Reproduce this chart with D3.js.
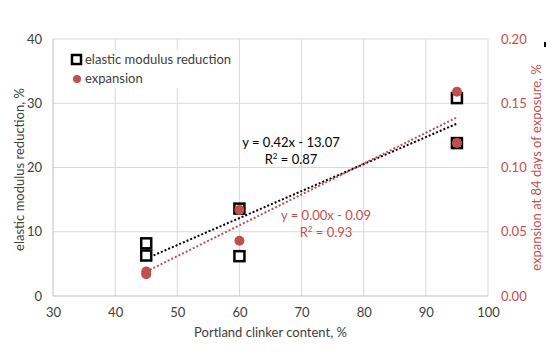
<!DOCTYPE html>
<html><head><meta charset="utf-8">
<script src="https://cdn.jsdelivr.net/npm/d3@7"></script>
<style>body{margin:0;background:#fff}svg{display:block}text{font-family:Lato,"Open Sans",sans-serif}</style>
</head><body>
<svg id="c" width="547" height="359"></svg>
<script>
const modX = [45, 45, 60, 60, 95, 95];
const modY = [8.2, 6.3, 13.6, 6.2, 30.8, 23.8];
const expX = [45, 45, 60, 60, 95, 95];
const expY = [0.019, 0.017, 0.067, 0.043, 0.159, 0.119];
const modFit = [0.42, -13.07];
const expFit = [0.0024, -0.089];
const xTicks = [30, 40, 50, 60, 70, 80, 90, 100];
const yTicks = [0, 10, 20, 30, 40];
const y2Ticks = [0, 0.05, 0.10, 0.15, 0.20];
const red = "#C0504D";

const svg = d3.select("#c");
const L = 53, R = 488, T = 39, B = 296;
const x = d3.scaleLinear().domain([30, 100]).range([L, R]);
const y = d3.scaleLinear().domain([0, 40]).range([B, T]);
const y2 = d3.scaleLinear().domain([0, 0.2]).range([B, T]);

// grid
svg.append("g").selectAll("line").data(xTicks.slice(1)).join("line")
  .attr("x1", d => x(d)).attr("x2", d => x(d)).attr("y1", T).attr("y2", B)
  .attr("stroke", "#d9d9d9").attr("stroke-width", 1);
svg.append("g").selectAll("line").data(yTicks.slice(1)).join("line")
  .attr("x1", L).attr("x2", R).attr("y1", d => y(d)).attr("y2", d => y(d))
  .attr("stroke", "#d9d9d9").attr("stroke-width", 1);
// axes lines
svg.append("line").attr("x1", L).attr("x2", L).attr("y1", T).attr("y2", B).attr("stroke", "#bfbfbf");
svg.append("line").attr("x1", L).attr("x2", R).attr("y1", B).attr("y2", B).attr("stroke", "#bfbfbf");

// tick labels
const xa = d3.axisBottom(x).tickValues(xTicks).tickSize(0).tickPadding(12);
svg.append("g").attr("transform", `translate(0,${B})`).call(xa)
  .call(g => g.select(".domain").remove())
  .selectAll("text").attr("font-size", 13).attr("fill", "#404040").attr("font-family", "Lato");
const ya = d3.axisLeft(y).tickValues(yTicks).tickSize(0).tickPadding(11);
svg.append("g").attr("transform", `translate(${L},0)`).call(ya)
  .call(g => g.select(".domain").remove())
  .selectAll("text").attr("font-size", 13).attr("fill", "#404040").attr("font-family", "Lato");
const y2a = d3.axisRight(y2).tickValues(y2Ticks).tickFormat(d3.format(".2f")).tickSize(0).tickPadding(13);
svg.append("g").attr("transform", `translate(${R},0)`).call(y2a)
  .call(g => g.select(".domain").remove())
  .selectAll("text").attr("font-size", 13).attr("fill", red).attr("font-family", "Lato");

// axis titles
svg.append("text").attr("x", (L + R) / 2).attr("y", 337).attr("text-anchor", "middle")
  .attr("font-size", 13).attr("fill", "#404040").text("Portland clinker content, %");
svg.append("text").attr("transform", `translate(24,${(T + B) / 2 + 2}) rotate(-90)`).attr("text-anchor", "middle")
  .attr("font-size", 13).attr("fill", "#404040").text("elastic modulus reduction, %");
svg.append("text").attr("transform", `translate(541,${(T + B) / 2}) rotate(-90)`).attr("text-anchor", "middle")
  .attr("font-size", 13).attr("fill", red).text("expansion at 84 days of exposure, %");

// trendlines
const xMin = d3.min(modX), xMax = d3.max(modX);
svg.append("line").attr("x1", x(xMin)).attr("x2", x(xMax))
  .attr("y1", y(modFit[0] * xMin + modFit[1])).attr("y2", y(modFit[0] * xMax + modFit[1]))
  .attr("stroke", "#000").attr("stroke-width", 2).attr("stroke-dasharray", "2,2");
svg.append("line").attr("x1", x(xMin)).attr("x2", x(xMax))
  .attr("y1", y2(expFit[0] * xMin + expFit[1])).attr("y2", y2(expFit[0] * xMax + expFit[1]))
  .attr("stroke", red).attr("stroke-width", 2).attr("stroke-dasharray", "2,2");

// squares
const s = 10;
svg.append("g").selectAll("rect").data(modX.map((d, i) => [d, modY[i]])).join("rect")
  .attr("x", d => x(d[0]) - s / 2).attr("y", d => y(d[1]) - s / 2).attr("width", s).attr("height", s)
  .attr("fill", "#fff").attr("stroke", "#000").attr("stroke-width", 2.5);
// circles
svg.append("g").selectAll("circle").data(expX.map((d, i) => [d, expY[i]])).join("circle")
  .attr("cx", d => x(d[0])).attr("cy", d => y2(d[1])).attr("r", 5).attr("fill", red);

// equation labels
svg.append("text").attr("x", 291).attr("y", 147).attr("text-anchor", "middle").attr("font-size", 13).attr("fill", "#000").text("y = 0.42x - 13.07");
const r1 = svg.append("text").attr("x", 291).attr("y", 164).attr("text-anchor", "middle").attr("font-size", 13).attr("fill", "#000");
r1.append("tspan").text("R");
r1.append("tspan").attr("font-size", 8).attr("dy", -5).text("2");
r1.append("tspan").attr("dy", 5).text(" = 0.87");
svg.append("text").attr("x", 326).attr("y", 220).attr("text-anchor", "middle").attr("font-size", 13).attr("fill", red).text("y = 0.00x - 0.09");
const r2 = svg.append("text").attr("x", 326).attr("y", 237).attr("text-anchor", "middle").attr("font-size", 13).attr("fill", red);
r2.append("tspan").text("R");
r2.append("tspan").attr("font-size", 8).attr("dy", -5).text("2");
r2.append("tspan").attr("dy", 5).text(" = 0.93");

// legend
const lg = svg.append("g");
lg.append("rect").attr("x", 70).attr("y", 50).attr("width", 162).attr("height", 38).attr("fill", "#fff");
lg.append("rect").attr("x", 72).attr("y", 55).attr("width", 9).attr("height", 9).attr("fill", "#fff").attr("stroke", "#000").attr("stroke-width", 2.5);
lg.append("text").attr("x", 85).attr("y", 64).attr("font-size", 13).attr("fill", "#404040").text("elastic modulus reduction");
lg.append("circle").attr("cx", 77).attr("cy", 79).attr("r", 4).attr("fill", red);
lg.append("text").attr("x", 85).attr("y", 83).attr("font-size", 13).attr("fill", "#404040").text("expansion");

// small artifact mark
svg.append("rect").attr("x", 544).attr("y", 42).attr("width", 2).attr("height", 5).attr("fill", "#000");
</script>
</body></html>
